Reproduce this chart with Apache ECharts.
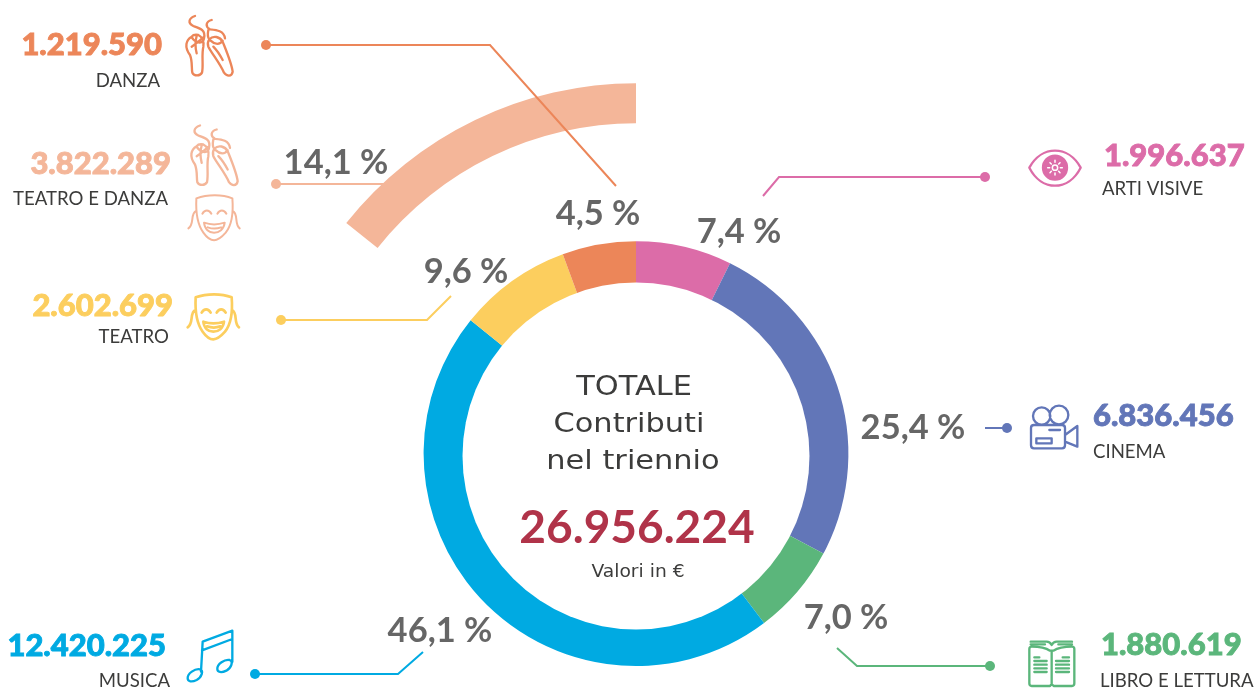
<!DOCTYPE html>
<html><head><meta charset="utf-8">
<script src="https://cdn.jsdelivr.net/npm/echarts@6/dist/echarts.min.js"></script>
<style>html,body{margin:0;padding:0;background:#fff}#c{width:1259px;height:688px}</style>
</head><body><div id="c"></div>
<script>
const categories = ['ARTI VISIVE','CINEMA','LIBRO E LETTURA','MUSICA','TEATRO','DANZA'];
const amounts = [1996637,6836456,1880619,12420225,2602699,1219590];
const shares = ['7,4 %','25,4 %','7,0 %','46,1 %','9,6 %','4,5 %'];
// arc sizes as actually drawn in the picture (per cent of the ring)
const drawnArcs = [7.3,25.5,6.9,46.1,8.6,5.6];
const colors = ['#DC6CA8','#6276B8','#5BB67B','#00AAE2','#FCCE5E','#EC8659'];
const comboName = 'TEATRO E DANZA';
const comboAmount = 3822289;
const comboShare = '14,1 %';
const comboDrawnArc = 14.3;
const comboColor = '#F4B699';
const totalAmount = 26956224;
const totalLines = ['TOTALE','Contributi','nel triennio'];
const unitNote = 'Valori in €';

const FONT = 'Lato, "Open Sans", sans-serif';
const WIDE = '"DejaVu Sans", sans-serif';
const INK = '#3C3C3B', GREY = '#666666', TOTAL = '#B03349';
const fmt = v => String(v).replace(/\B(?=(\d{3})+$)/g,'.');

const labelPos = [[739,232],[913,428],[846,618],[440,631],[466,272],[598,214]];
const blocks = [
 {x:1104,y:156,lx:1102,ly:189,a:'left',dot:[985,177],pts:[[985,177],[779,177],[763,196]]},
 {x:1093,y:416,lx:1093,ly:452,a:'left',dot:[1007,428],pts:[[1007,428],[985,428]]},
 {x:1101,y:645,lx:1100,ly:681,a:'left',dot:[990,666],pts:[[990,666],[857,666],[837,648]]},
 {x:166,y:646,lx:170,ly:681,a:'right',dot:[255,674],pts:[[255,674],[398,674],[423,652]]},
 {x:173,y:306,lx:169,ly:337,a:'right',dot:[281,320],pts:[[281,320],[427,320],[451,296]]},
 {x:162,y:45,lx:160,ly:81,a:'right',dot:[266,45],pts:[[266,45],[490,45],[616,186]]}
];
const comboBlock = {x:171,y:164,lx:168,ly:199,a:'right',dot:[276,184],pts:[[276,184],[384,184]]};

const shoes = 'M575,110C558,120 552,140 570,165C578,185 574,205 577,218C582,229 600,229 606,218C611,195 604,165 610,140C613,125 606,110 595,105C585,103 578,106 575,110Z'
 +'M585,48C565,55 563,70 580,78C600,85 618,90 612,115C610,128 600,130 590,125C580,120 576,115 575,110'
 +'M590,108C585,125 585,140 590,160M575,140C590,130 600,120 610,112'
 +'M628,118C640,105 660,110 668,125C678,150 695,190 698,215C695,231 680,229 672,218C660,190 635,160 625,140C622,130 625,122 628,118Z'
 +'M635,60C617,65 615,80 630,88C650,90 672,92 675,115'
 +'M632,122C645,135 660,135 668,122M640,140C650,150 660,165 668,180M625,90C622,105 625,115 628,118';
const mask = 'M587,892C620,880 665,880 695,892C698,930 695,970 675,995C660,1012 650,1018 640,1018C630,1018 620,1012 608,995C590,970 585,930 587,892Z'
 +'M605,938C612,925 625,925 632,938M650,938C657,925 670,925 677,938'
 +'M610,965C630,972 650,972 672,965C670,985 655,995 640,995C625,995 612,985 610,965Z'
 +'M621,979C635,984 648,984 661,979'
 +'M586,930C568,938 582,970 563,982M696,930C714,938 700,970 717,982';
const eye = 'M208,113C245,45 325,45 362,113C325,185 245,185 208,113Z';
const eyeDisc = 'M249,113a36,36 0 1,0 72,0a36,36 0 1,0 -72,0Z';
const eyeDashes = 'M285,91L285,97M285,129L285,135M263,113L269,113M301,113L307,113M270,98L274,102M296,124L300,128M300,98L296,102M274,124L270,128'
 +'M277,113a8,8 0 1,0 16,0a8,8 0 1,0 -16,0Z';
const camera = 'M219,858a26,26 0 1,0 52,0a26,26 0 1,0 -52,0Z'
 +'M269,855a28,28 0 1,0 56,0a28,28 0 1,0 -56,0Z'
 +'M222,885L306,885Q315,885 315,894L315,946Q315,955 306,955L222,955Q213,955 213,946L213,894Q213,885 222,885Z'
 +'M315,915L352,888L352,950L315,935'
 +'M229,925L275,925L275,940L229,940ZM268,900L300,900';
const book = 'M150,152C135,142 115,140 95,140Q88,140 88,147L88,250Q88,258 95,258L150,258L155,252L161,258L216,258Q223,258 223,250L223,147Q223,140 216,140C196,140 176,142 160,152Z'
 +'M155,152L155,252M92,125L140,125Q150,125 155,135Q160,125 170,125L216,125M92,133L135,133M175,133L216,133'
 +'M103,172L118,172M188,172L207,172M103,183L140,183M168,183L207,183M103,194L140,194M168,194L207,194M103,205L140,205M168,205L207,205M103,216L140,216M168,216L207,216';
const notes = 'M563,235C562,220 585,205 600,208C612,212 605,232 590,240C575,247 563,245 563,235Z'
 +'M652,207C651,192 674,177 689,180C701,184 694,204 679,212C664,219 652,217 652,207Z'
 +'M603,215L608,125L697,92L697,185M606,151L697,117';

const icons = [
 {d:eye,ox:960,oy:130,s:colors[0]},
 {d:eyeDisc,ox:960,oy:130,s:colors[0],f:colors[0]},
 {d:eyeDashes,ox:960,oy:130,s:'#fff',w:4.5},
 {d:camera,ox:960,oy:130,s:colors[1]},
 {d:book,ox:1000,oy:600,s:colors[2]},
 {d:notes,ox:0,oy:600,s:colors[3]},
 {d:mask,ox:0,oy:0,s:colors[4],w:8},
 {d:shoes,ox:0,oy:0,s:colors[5]},
 {d:shoes,ox:5,oy:109.5,s:comboColor},
 {d:mask,ox:0.7,oy:-99,s:comboColor,w:6}
];

const graphics = [];
// white disc: the hole of the ring sits slightly lower than the ring's outer edge
graphics.push({type:'circle',silent:true,z:3,shape:{cx:636,cy:456,r:173.5},style:{fill:'#fff'}});
function addBlock(b,name,amount,color){
  graphics.push({type:'polyline',silent:true,z:5,shape:{points:b.pts},style:{stroke:color,lineWidth:2,fill:null}});
  graphics.push({type:'circle',silent:true,z:5,shape:{cx:b.dot[0],cy:b.dot[1],r:5},style:{fill:color}});
  graphics.push({type:'text',silent:true,z:6,x:b.x,y:b.y,style:{text:fmt(amount),fill:color,stroke:color,lineWidth:0.9,font:'900 31px '+FONT,textAlign:b.a,textVerticalAlign:'middle'}});
  graphics.push({type:'text',silent:true,z:6,x:b.lx,y:b.ly,style:{text:name,fill:INK,font:'400 18.6px '+FONT,textAlign:b.a,textVerticalAlign:'middle'}});
}
categories.forEach((n,i)=>addBlock(blocks[i],n,amounts[i],colors[i]));
addBlock(comboBlock,comboName,comboAmount,comboColor);
graphics.push({type:'text',silent:true,z:7,x:336,y:163,style:{text:comboShare,fill:GREY,font:'700 34.5px '+FONT,textAlign:'center',textVerticalAlign:'middle'}});
const centreText = [[totalLines[0],634,388],[totalLines[1],629,425],[totalLines[2],633,462]];
centreText.forEach(t=>graphics.push({type:'text',silent:true,z:6,x:t[1],y:t[2],scaleX:1.17,style:{text:t[0],fill:INK,font:'400 26px '+WIDE,textAlign:'center',textVerticalAlign:'middle'}}));
graphics.push({type:'text',silent:true,z:6,x:637,y:528,style:{text:fmt(totalAmount),fill:TOTAL,font:'700 46px '+FONT,textAlign:'center',textVerticalAlign:'middle'}});
graphics.push({type:'text',silent:true,z:6,x:638,y:572.5,scaleX:1.1,style:{text:unitNote,fill:INK,font:'400 17px '+WIDE,textAlign:'center',textVerticalAlign:'middle'}});

const chart = echarts.init(document.getElementById('c'),null,{renderer:'canvas'});
const cx = 636, cy = 453.6;
chart.setOption({
  animation:false,
  backgroundColor:'#fff',
  graphic:{elements:graphics},
  series:[
    {type:'pie',center:[cx,cy],radius:[150,212.4],startAngle:90,clockwise:true,silent:true,z:2,
     label:{show:true,formatter:p=>shares[p.dataIndex],color:GREY,fontFamily:FONT,fontWeight:700,fontSize:34.5},
     labelLine:{show:false},
     labelLayout:p=>({x:labelPos[p.dataIndex][0],y:labelPos[p.dataIndex][1],align:'center',verticalAlign:'middle'}),
     itemStyle:{borderWidth:0},
     emphasis:{disabled:true},
     data:categories.map((n,i)=>({name:n,value:drawnArcs[i],itemStyle:{color:colors[i]}}))},
    {type:'pie',center:[cx,cy],radius:[330.3,370.3],startAngle:90,clockwise:true,silent:true,z:2,
     label:{show:false},labelLine:{show:false},emphasis:{disabled:true},
     data:[{name:'resto',value:100-comboDrawnArc,itemStyle:{color:'transparent'}},
           {name:comboName,value:comboDrawnArc,itemStyle:{color:comboColor}}]},
    {type:'custom',coordinateSystem:'none',silent:true,z:4,data:icons.map((_,i)=>i),
     renderItem:(p)=>{const k=icons[p.dataIndex];return {type:'path',silent:true,x:k.ox,y:k.oy,scaleX:1/3,scaleY:1/3,
       shape:{pathData:k.d},style:{fill:k.f||'none',stroke:k.s,lineWidth:k.w||7,lineJoin:'round',lineCap:'round'}};}}
  ]
});
</script></body></html>
